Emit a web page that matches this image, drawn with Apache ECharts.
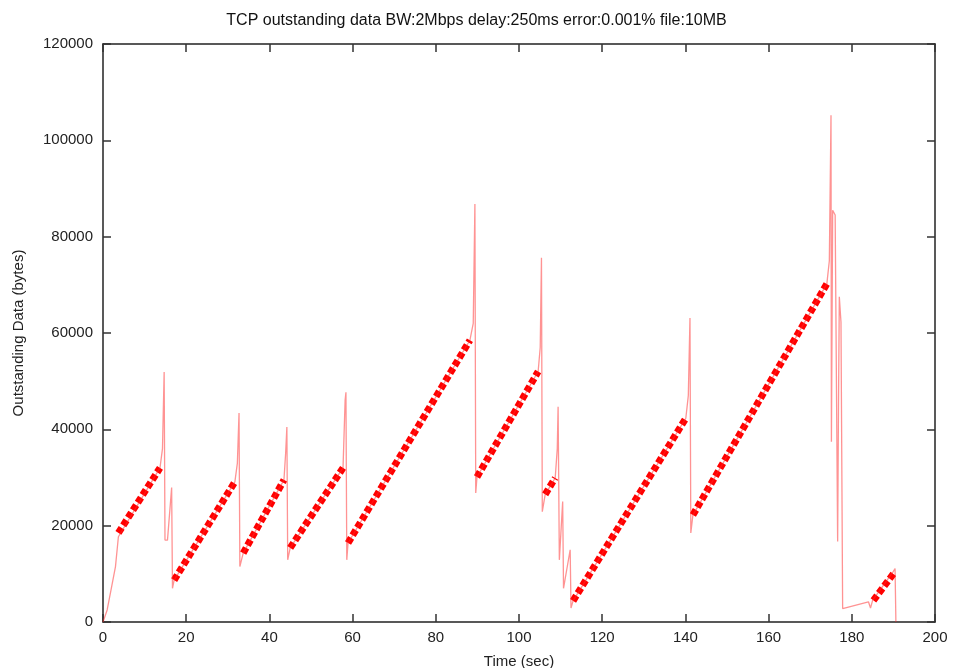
<!DOCTYPE html>
<html>
<head>
<meta charset="utf-8">
<script src="https://cdn.jsdelivr.net/npm/echarts@6/dist/echarts.min.js"></script>
<style>
  html, body { margin: 0; padding: 0; background: #fff; }
  #chart { width: 953px; height: 668px; }
</style>
</head>
<body>
<div id="chart"></div>
<script>
// thin trace (time in sec, outstanding bytes)
var traceTime = [0, 1, 2, 3, 3.7, 13.7, 14.3, 14.7, 14.9, 15.5, 16.5, 16.7, 17.1,
  31.7, 32.3, 32.7, 32.9, 33.7, 43.5, 43.9, 44.2, 44.4, 45, 57.7, 58.2, 58.4, 58.6, 58.9,
  88.2, 89.0, 89.4, 89.6, 89.9, 104.6, 105.1, 105.4, 105.6, 106.3, 108.7, 109.2, 109.4, 109.7,
  110.5, 110.7, 112.3, 112.5, 113, 140.1, 140.7, 141.1, 141.3, 141.8, 174, 174.6, 175, 175.1,
  175.4, 176.0, 176.6, 176.8, 177.0, 177.4, 177.8, 178.1, 184, 184.5, 185, 190, 190.4, 190.6];
var traceBytes = [0, 2500, 7000, 11500, 17700, 32000, 36000, 51900, 17000, 17000, 27900, 7000, 8700,
  29100, 33000, 43400, 11500, 14300, 29500, 35000, 40500, 12900, 15400, 32000, 46000, 47700, 12900, 16400,
  58500, 62000, 86800, 26800, 30100, 52000, 57000, 75600, 22900, 26500, 29900, 36000, 44700, 12900,
  25000, 7000, 15000, 2900, 4400, 42300, 47000, 63100, 18500, 22200, 70200, 75000, 105200, 37400,
  85500, 84500, 16700, 44700, 67500, 62300, 2800, 2800, 4200, 2900, 4500, 10500, 11100, 0];

// staircase ramps (null separates the segments)
var rampTime = [3.7, 13.7, null, 17.1, 31.7, null, 33.7, 43.5, null, 45, 57.7, null, 58.9, 88.2, null,
  89.9, 104.6, null, 106.3, 108.7, null, 113, 140.1, null, 141.8, 174, null, 185.2, 190];
var rampBytes = [18500, 32000, null, 8700, 29100, null, 14300, 29500, null, 15400, 32000, null, 16400, 58500, null,
  30100, 52000, null, 26500, 29900, null, 4400, 42300, null, 22200, 70200, null, 4500, 10000];

var xTicks = { min: 0, max: 200, interval: 20 };
var yTicks = { min: 0, max: 120000, interval: 20000 };

function pairs (xs, ys) {
  var out = []
  for (var i = 0; i < xs.length; i++) {
    out.push(xs[i] === null ? [null, null] : [xs[i], ys[i]])
  }
  return out
}

var frameLine = { show: true, onZero: false, lineStyle: { color: '#222', width: 1.5 } };
var tickStyle = { show: true, inside: true, length: 8, lineStyle: { color: '#333', width: 1.5 } };
var labelFont = { fontFamily: 'Liberation Sans', fontSize: 15, color: '#222' };

var chart = echarts.init(document.getElementById('chart'));
chart.setOption({
  backgroundColor: '#fff',
  animation: false,
  title: {
    text: 'TCP outstanding data BW:2Mbps delay:250ms error:0.001% file:10MB',
    left: 'center',
    top: 8,
    textStyle: { fontFamily: 'Liberation Sans', fontSize: 16, fontWeight: 'normal', color: '#111' }
  },
  grid: { left: 103, right: 18, top: 44, bottom: 46, outerBoundsMode: 'none', containLabel: false },
  xAxis: [{
    type: 'value',
    min: xTicks.min, max: xTicks.max, interval: xTicks.interval,
    name: 'Time (sec)',
    nameLocation: 'middle',
    nameGap: 32,
    nameTextStyle: labelFont,
    axisLine: frameLine,
    axisTick: tickStyle,
    axisLabel: Object.assign({ margin: 8 }, labelFont),
    splitLine: { show: false }
  }, {
    type: 'value',
    position: 'top',
    min: xTicks.min, max: xTicks.max, interval: xTicks.interval,
    axisLine: frameLine,
    axisTick: tickStyle,
    axisLabel: { show: false },
    splitLine: { show: false }
  }],
  yAxis: [{
    type: 'value',
    min: yTicks.min, max: yTicks.max, interval: yTicks.interval,
    name: 'Outstanding Data (bytes)',
    nameLocation: 'middle',
    nameGap: 77,
    nameTextStyle: labelFont,
    axisLine: frameLine,
    axisTick: tickStyle,
    axisLabel: Object.assign({ margin: 10, formatter: function (v) { return String(v) } }, labelFont),
    splitLine: { show: false }
  }, {
    type: 'value',
    position: 'right',
    min: yTicks.min, max: yTicks.max, interval: yTicks.interval,
    axisLine: frameLine,
    axisTick: tickStyle,
    axisLabel: { show: false },
    splitLine: { show: false }
  }],
  series: [{
    name: 'ramps',
    type: 'line',
    data: pairs(rampTime, rampBytes),
    showSymbol: false,
    connectNulls: false,
    lineStyle: { color: '#ff0000', width: 7, type: [6, 3], cap: 'butt' },
    z: 2
  }, {
    name: 'outstanding',
    type: 'line',
    data: pairs(traceTime, traceBytes),
    showSymbol: false,
    lineStyle: { color: 'rgba(255,40,40,0.5)', width: 1.3 },
    z: 3
  }]
});
</script>
</body>
</html>
